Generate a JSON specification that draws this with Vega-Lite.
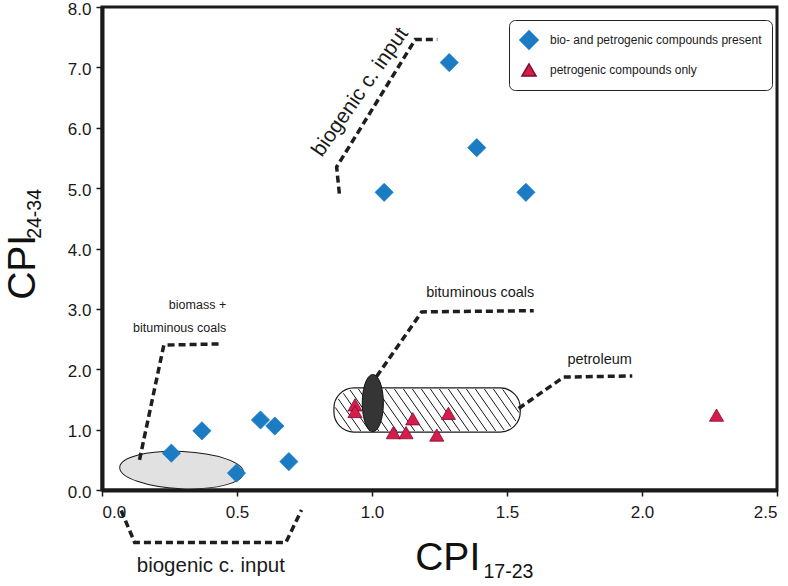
{
  "$schema": "https://vega.github.io/schema/vega-lite/v6.json",
  "width": 675,
  "height": 483,
  "autosize": "none",
  "padding": {"left": 102, "top": 7, "right": 11, "bottom": 96},
  "background": "white",
  "config": {
    "view": {"stroke": "#1a1a1a", "strokeWidth": 3},
    "axis": {
      "grid": false,
      "domainColor": "#1a1a1a",
      "domainWidth": 4,
      "tickColor": "#1a1a1a",
      "tickWidth": 1.5,
      "tickSize": 6,
      "labelFont": "Liberation Sans, Arial, sans-serif",
      "labelFontSize": 17,
      "labelColor": "#1a1a1a",
      "title": null
    }
  },
  "datasets": {
    "points": [
      {"cpi1723": 0.257, "cpi2434": 0.61, "type": "bio- and petrogenic compounds present"},
      {"cpi1723": 0.370, "cpi2434": 0.98, "type": "bio- and petrogenic compounds present"},
      {"cpi1723": 0.587, "cpi2434": 1.16, "type": "bio- and petrogenic compounds present"},
      {"cpi1723": 0.640, "cpi2434": 1.06, "type": "bio- and petrogenic compounds present"},
      {"cpi1723": 0.692, "cpi2434": 0.47, "type": "bio- and petrogenic compounds present"},
      {"cpi1723": 0.498, "cpi2434": 0.28, "type": "bio- and petrogenic compounds present"},
      {"cpi1723": 1.286, "cpi2434": 7.08, "type": "bio- and petrogenic compounds present"},
      {"cpi1723": 1.388, "cpi2434": 5.67, "type": "bio- and petrogenic compounds present"},
      {"cpi1723": 1.045, "cpi2434": 4.93, "type": "bio- and petrogenic compounds present"},
      {"cpi1723": 1.570, "cpi2434": 4.93, "type": "bio- and petrogenic compounds present"},
      {"cpi1723": 0.937, "cpi2434": 1.41, "type": "petrogenic compounds only"},
      {"cpi1723": 0.937, "cpi2434": 1.30, "type": "petrogenic compounds only"},
      {"cpi1723": 1.151, "cpi2434": 1.18, "type": "petrogenic compounds only"},
      {"cpi1723": 1.079, "cpi2434": 0.95, "type": "petrogenic compounds only"},
      {"cpi1723": 1.126, "cpi2434": 0.95, "type": "petrogenic compounds only"},
      {"cpi1723": 1.240, "cpi2434": 0.91, "type": "petrogenic compounds only"},
      {"cpi1723": 1.283, "cpi2434": 1.27, "type": "petrogenic compounds only"},
      {"cpi1723": 2.276, "cpi2434": 1.24, "type": "petrogenic compounds only"}
    ],
    "leaders": [
      {"g": "A", "o": 1, "x": 0.879, "y": 4.91},
      {"g": "A", "o": 2, "x": 0.869, "y": 5.35},
      {"g": "A", "o": 3, "x": 1.160, "y": 7.46},
      {"g": "A", "o": 4, "x": 1.242, "y": 7.46},
      {"g": "B", "o": 1, "x": 0.139, "y": 0.50},
      {"g": "B", "o": 2, "x": 0.229, "y": 2.40},
      {"g": "B", "o": 3, "x": 0.442, "y": 2.42},
      {"g": "C", "o": 1, "x": 1.017, "y": 1.88},
      {"g": "C", "o": 2, "x": 1.184, "y": 2.95},
      {"g": "C", "o": 3, "x": 1.599, "y": 2.97},
      {"g": "D", "o": 1, "x": 1.543, "y": 1.35},
      {"g": "D", "o": 2, "x": 1.710, "y": 1.87},
      {"g": "D", "o": 3, "x": 1.964, "y": 1.89},
      {"g": "E", "o": 1, "x": 0.071, "y": -0.34},
      {"g": "E", "o": 2, "x": 0.121, "y": -0.87},
      {"g": "E", "o": 3, "x": 0.681, "y": -0.87},
      {"g": "E", "o": 4, "x": 0.739, "y": -0.33}
    ]
  },
  "encoding": {
    "x": {"type": "quantitative", "scale": {"domain": [0, 2.5], "nice": false, "zero": false}},
    "y": {"type": "quantitative", "scale": {"domain": [0, 8], "nice": false, "zero": false}}
  },
  "layer": [
    {
      "data": {"values": [{"x": 0.859, "x2": 1.549, "y": 0.96, "y2": 1.69}]},
      "mark": {"type": "rect", "fill": "white", "stroke": "#1a1a1a", "strokeWidth": 1.2, "cornerRadius": 20},
      "encoding": {
        "x": {"field": "x", "type": "quantitative", "axis": {"values": [0, 0.5, 1, 1.5, 2, 2.5], "format": ".1f", "labelPadding": 8}},
        "x2": {"field": "x2"},
        "y": {"field": "y", "type": "quantitative", "axis": {"values": [0, 1, 2, 3, 4, 5, 6, 7, 8], "format": ".1f", "labelPadding": 5, "labelOffset": 2}},
        "y2": {"field": "y2"}
      }
    },
    {
      "data": {"values": [{"x": 1.204, "y": 1.325}]},
      "mark": {
        "type": "point", "filled": false, "size": 4, "stroke": "#1a1a1a", "strokeWidth": 1, "opacity": 1,
        "shape": "M-91.8 -2.6L-75.7 20.5M-88.8 -11.1L-66.3 21M-83.7 -16.7L-57.3 21M-77.1 -20.1L-48.3 21M-68.7 -21L-39.3 21M-59.7 -21L-30.3 21M-50.7 -21L-21.3 21M-41.7 -21L-12.3 21M-32.7 -21L-3.3 21M-23.7 -21L5.7 21M-14.7 -21L14.7 21M-5.7 -21L23.7 21M3.3 -21L32.7 21M12.3 -21L41.7 21M21.3 -21L50.7 21M30.3 -21L59.7 21M39.3 -21L68.7 21M48.3 -21L77.1 20.1M57.3 -21L83.7 16.7M66.3 -21L88.8 11.1M75.7 -20.5L91.8 2.6"
      },
      "encoding": {"x": {"field": "x", "type": "quantitative"}, "y": {"field": "y", "type": "quantitative"}}
    },
    {
      "data": {"values": [{"x": 0.295, "y": 0.33}]},
      "mark": {
        "type": "point", "filled": true, "size": 15376, "fill": "#e1e1e1", "stroke": "#1a1a1a", "strokeWidth": 1, "opacity": 1, "angle": 2.5,
        "shape": "M-1,0A1,0.3,0,1,1,1,0A1,0.3,0,1,1,-1,0Z"
      },
      "encoding": {"x": {"field": "x", "type": "quantitative"}, "y": {"field": "y", "type": "quantitative"}}
    },
    {
      "data": {"values": [{"x": 1.003, "y": 1.44}]},
      "mark": {
        "type": "point", "filled": true, "size": 3249, "fill": "#353535", "stroke": "#111111", "strokeWidth": 1, "opacity": 1,
        "shape": "M0,-1A0.37,1,0,1,1,0,1A0.37,1,0,1,1,0,-1Z"
      },
      "encoding": {"x": {"field": "x", "type": "quantitative"}, "y": {"field": "y", "type": "quantitative"}}
    },
    {
      "data": {"name": "leaders"},
      "mark": {"type": "line", "stroke": "#1e1e1e", "strokeWidth": 3.5, "strokeDash": [7, 4]},
      "encoding": {
        "x": {"field": "x", "type": "quantitative"},
        "y": {"field": "y", "type": "quantitative"},
        "detail": {"field": "g"},
        "order": {"field": "o"}
      }
    },
    {
      "data": {"name": "points"},
      "mark": {"type": "point", "filled": true, "opacity": 1, "strokeWidth": 0.8},
      "encoding": {
        "x": {"field": "cpi1723", "type": "quantitative"},
        "y": {"field": "cpi2434", "type": "quantitative"},
        "color": {
          "field": "type", "type": "nominal",
          "scale": {"domain": ["bio- and petrogenic compounds present", "petrogenic compounds only"], "range": ["#1b7cc4", "#d71c4b"]},
          "legend": {
            "orient": "none", "legendX": 407, "legendY": 13, "title": null,
            "strokeColor": "#222222", "fillColor": "white", "cornerRadius": 6, "padding": 10,
            "labelFont": "Liberation Sans, Arial, sans-serif", "labelFontSize": 12, "labelColor": "#1a1a1a",
            "labelLimit": 320, "labelOffset": 11, "symbolSize": 330, "rowPadding": 7
          }
        },
        "shape": {
          "field": "type", "type": "nominal",
          "scale": {"domain": ["bio- and petrogenic compounds present", "petrogenic compounds only"], "range": ["diamond", "triangle-up"]},
          "legend": {
            "orient": "none", "legendX": 407, "legendY": 13, "title": null,
            "strokeColor": "#222222", "fillColor": "white", "cornerRadius": 6, "padding": 10,
            "labelFont": "Liberation Sans, Arial, sans-serif", "labelFontSize": 12, "labelColor": "#1a1a1a",
            "labelLimit": 320, "labelOffset": 11, "symbolSize": 330, "rowPadding": 7
          }
        },
        "size": {"field": "type", "type": "nominal", "scale": {"domain": ["bio- and petrogenic compounds present", "petrogenic compounds only"], "range": [330, 200]}, "legend": null},
        "stroke": {"field": "type", "type": "nominal", "scale": {"domain": ["bio- and petrogenic compounds present", "petrogenic compounds only"], "range": ["#1b7cc4", "#7a0d2e"]}, "legend": null}
      }
    },
    {
      "data": {"values": [{"label": "bituminous coals", "x": 1.401, "y": 3.20}, {"label": "petroleum", "x": 1.843, "y": 2.09}]},
      "mark": {"type": "text", "font": "Liberation Sans, Arial, sans-serif", "fontSize": 14.5, "align": "center", "baseline": "alphabetic", "color": "#1a1a1a"},
      "encoding": {"x": {"field": "x", "type": "quantitative"}, "y": {"field": "y", "type": "quantitative"}, "text": {"field": "label"}}
    },
    {
      "data": {"values": [{"label": "biomass +", "x": 0.460, "y": 3.00}, {"label": "bituminous coals", "x": 0.460, "y": 2.62}]},
      "mark": {"type": "text", "font": "Liberation Sans, Arial, sans-serif", "fontSize": 12.5, "align": "right", "baseline": "alphabetic", "color": "#1a1a1a"},
      "encoding": {"x": {"field": "x", "type": "quantitative"}, "y": {"field": "y", "type": "quantitative"}, "text": {"field": "label"}}
    },
    {
      "data": {"values": [{"label": "biogenic c. input", "x": 0.403, "y": -1.35}]},
      "mark": {"type": "text", "font": "Liberation Sans, Arial, sans-serif", "fontSize": 20.5, "align": "center", "baseline": "alphabetic", "color": "#1a1a1a"},
      "encoding": {"x": {"field": "x", "type": "quantitative"}, "y": {"field": "y", "type": "quantitative"}, "text": {"field": "label"}}
    },
    {
      "data": {"values": [{"label": "biogenic c. input", "x": 0.957, "y": 6.59}]},
      "mark": {"type": "text", "font": "Liberation Sans, Arial, sans-serif", "fontSize": 21, "align": "center", "baseline": "middle", "angle": -55, "color": "#1a1a1a"},
      "encoding": {"x": {"field": "x", "type": "quantitative"}, "y": {"field": "y", "type": "quantitative"}, "text": {"field": "label"}}
    },
    {
      "data": {"values": [{"label": "CPI", "x": 1.160, "y": -1.325}]},
      "mark": {"type": "text", "font": "Liberation Sans, Arial, sans-serif", "fontSize": 39, "align": "left", "baseline": "alphabetic", "color": "#111111"},
      "encoding": {"x": {"field": "x", "type": "quantitative"}, "y": {"field": "y", "type": "quantitative"}, "text": {"field": "label"}}
    },
    {
      "data": {"values": [{"label": "17-23", "x": 1.413, "y": -1.46}]},
      "mark": {"type": "text", "font": "Liberation Sans, Arial, sans-serif", "fontSize": 19.5, "align": "left", "baseline": "alphabetic", "color": "#111111"},
      "encoding": {"x": {"field": "x", "type": "quantitative"}, "y": {"field": "y", "type": "quantitative"}, "text": {"field": "label"}}
    },
    {
      "data": {"values": [{"label": "CPI", "x": -0.250, "y": 3.15}]},
      "mark": {"type": "text", "font": "Liberation Sans, Arial, sans-serif", "fontSize": 39, "align": "left", "baseline": "alphabetic", "angle": -90, "color": "#111111"},
      "encoding": {"x": {"field": "x", "type": "quantitative"}, "y": {"field": "y", "type": "quantitative"}, "text": {"field": "label"}}
    },
    {
      "data": {"values": [{"label": "24-34", "x": -0.226, "y": 4.16}]},
      "mark": {"type": "text", "font": "Liberation Sans, Arial, sans-serif", "fontSize": 19.5, "align": "left", "baseline": "alphabetic", "angle": -90, "color": "#111111"},
      "encoding": {"x": {"field": "x", "type": "quantitative"}, "y": {"field": "y", "type": "quantitative"}, "text": {"field": "label"}}
    }
  ]
}
